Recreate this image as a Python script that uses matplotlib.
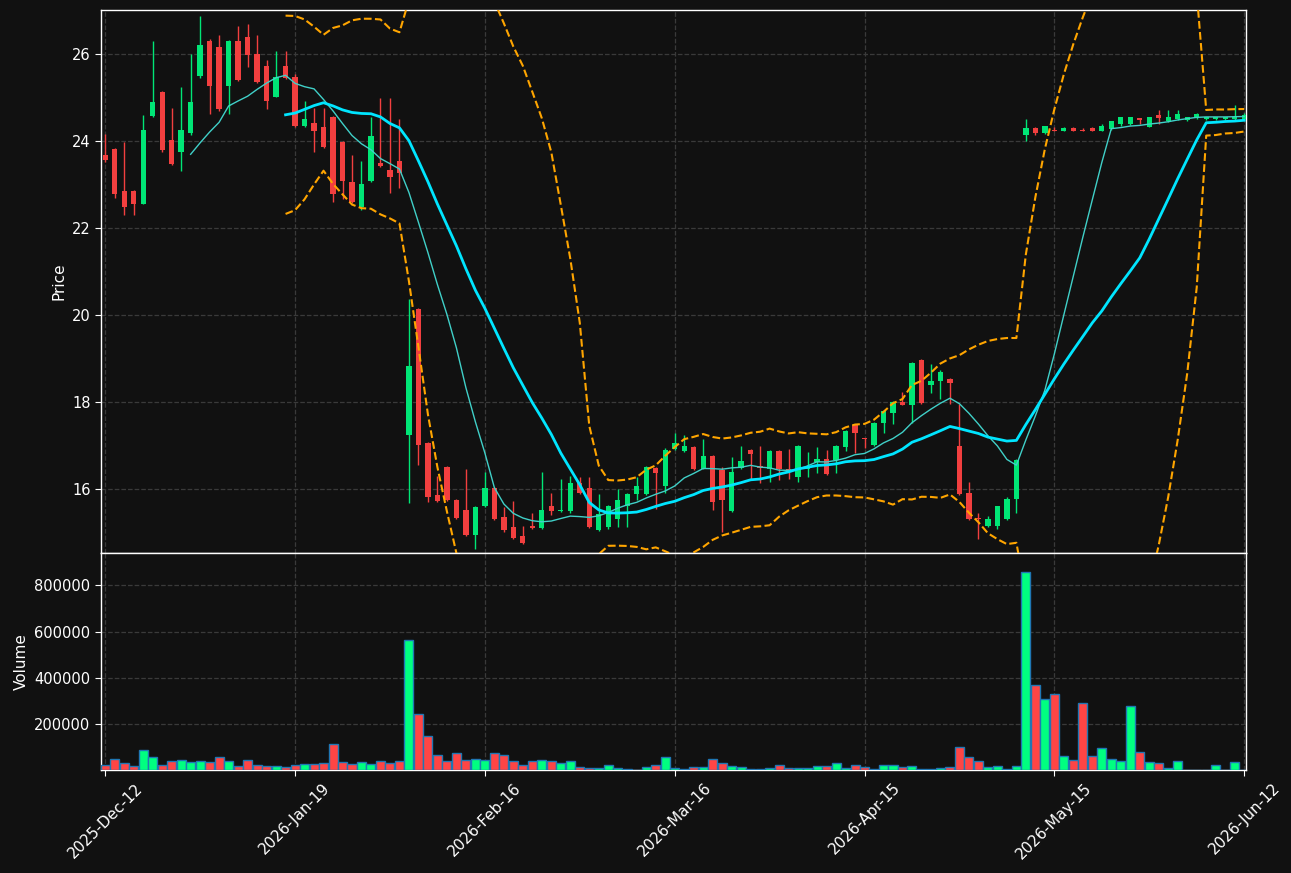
import numpy as np
import pandas as pd
import matplotlib
matplotlib.use("Agg")
import matplotlib.pyplot as plt
from matplotlib.ticker import FixedLocator, FixedFormatter

# ---------------- data ----------------
opens = [23.69, 23.82, 22.86, 22.86, 22.57, 24.58, 25.13, 24.03, 23.76, 24.19,
         25.51, 26.31, 26.17, 25.28, 26.31, 26.40, 26.01, 25.73, 25.03, 25.73,
         25.49, 24.36, 24.42, 24.33, 24.56, 23.98, 23.06, 22.50, 23.09, 23.50,
         23.34, 23.55, 17.25, 20.14, 17.06, 15.87, 16.51, 15.75, 15.52, 14.95,
         15.62, 16.03, 15.36, 15.13, 14.94, 15.16, 15.11, 15.61, 15.50, 15.51,
         16.14, 16.03, 15.07, 15.14, 15.32, 15.62, 15.89, 15.90, 16.49, 16.08,
         16.93, 16.89, 16.97, 16.48, 16.77, 16.44, 15.51, 16.50, 16.90, 16.55,
         16.47, 16.88, 16.46, 16.29, 16.47, 16.62, 16.70, 16.67, 16.98, 17.49,
         17.18, 17.03, 17.53, 17.76, 18.01, 17.95, 18.97, 18.40, 18.50, 18.55,
         17.01, 15.91, 15.34, 15.16, 15.16, 15.32, 15.78, 24.15, 24.31, 24.19,
         24.26, 24.24, 24.31, 24.26, 24.31, 24.24, 24.29, 24.40, 24.40, 24.51,
         24.34, 24.60, 24.46, 24.51, 24.50, 24.55, 24.51, 24.51, 24.51, 24.51,
         24.51]
highs = [24.17, 23.84, 23.98, 22.88, 24.60, 26.30, 25.15, 24.76, 25.24, 26.00,
         26.88, 26.35, 26.44, 26.33, 26.65, 26.69, 26.44, 25.87, 26.08, 26.08,
         25.55, 24.94, 24.76, 24.76, 24.58, 24.00, 23.68, 23.54, 24.55, 24.99,
         24.99, 24.51, 20.37, 20.16, 17.08, 16.32, 16.53, 15.77, 16.48, 15.61,
         16.41, 16.05, 15.59, 15.73, 15.16, 15.45, 16.39, 15.91, 16.24, 16.30,
         16.28, 16.28, 15.90, 15.65, 16.02, 15.91, 16.28, 16.53, 16.51, 16.95,
         17.29, 17.26, 16.99, 17.17, 16.80, 16.52, 16.74, 17.01, 16.92, 16.99,
         16.90, 16.90, 16.93, 17.02, 16.85, 16.97, 16.90, 17.02, 17.36, 17.51,
         17.19, 17.54, 17.82, 18.03, 18.25, 18.93, 18.99, 18.88, 18.74, 18.57,
         17.96, 16.17, 15.46, 15.39, 15.63, 15.82, 16.69, 24.51, 24.32, 24.36,
         24.33, 24.32, 24.32, 24.30, 24.32, 24.41, 24.47, 24.56, 24.56, 24.52,
         24.56, 24.72, 24.72, 24.72, 24.56, 24.65, 24.57, 24.56, 24.56, 24.84,
         24.65]
lows = [23.53, 22.71, 22.32, 22.32, 22.55, 24.55, 23.75, 23.46, 23.33, 24.15,
        25.46, 24.64, 24.70, 24.64, 25.40, 25.71, 25.35, 24.75, 25.01, 25.44,
        24.34, 24.34, 23.76, 23.85, 22.61, 22.67, 22.59, 22.42, 23.07, 23.42,
        22.81, 22.94, 15.69, 16.57, 15.72, 15.72, 15.74, 15.32, 14.93, 14.63,
        15.60, 15.30, 15.02, 14.86, 14.75, 15.09, 15.09, 15.41, 15.48, 15.46,
        15.90, 15.12, 15.05, 15.10, 15.14, 15.14, 15.75, 15.88, 15.56, 15.92,
        16.90, 16.87, 16.45, 16.46, 15.52, 15.03, 15.49, 16.48, 16.25, 16.14,
        16.18, 16.22, 16.23, 16.16, 16.28, 16.38, 16.34, 16.37, 16.89, 16.83,
        16.95, 17.01, 17.30, 17.50, 17.93, 17.52, 17.97, 18.21, 18.07, 17.96,
        15.88, 15.30, 14.85, 15.14, 15.08, 15.30, 15.46, 24.00, 24.15, 24.17,
        24.23, 24.23, 24.23, 24.23, 24.23, 24.23, 24.27, 24.36, 24.38, 24.41,
        24.32, 24.41, 24.44, 24.49, 24.48, 24.51, 24.50, 24.50, 24.50, 24.50,
        24.50]
closes = [23.57, 22.80, 22.50, 22.57, 24.26, 24.90, 23.80, 23.48, 24.26, 24.90,
          26.21, 25.28, 24.74, 26.31, 25.42, 25.99, 25.37, 24.93, 25.49, 25.46,
          24.36, 24.51, 24.24, 23.87, 22.80, 23.09, 22.61, 23.02, 24.12, 23.44,
          23.19, 23.28, 18.83, 17.03, 15.83, 15.74, 15.76, 15.34, 14.95, 15.59,
          16.03, 15.32, 15.06, 14.88, 14.77, 15.11, 15.52, 15.51, 15.53, 16.14,
          15.92, 15.14, 15.43, 15.63, 15.76, 15.89, 16.09, 16.51, 16.38, 16.90,
          17.06, 16.99, 16.47, 16.77, 15.72, 15.76, 16.40, 16.65, 16.82, 16.50,
          16.88, 16.46, 16.43, 17.00, 16.52, 16.70, 16.36, 17.00, 17.34, 17.30,
          17.16, 17.52, 17.80, 18.01, 17.95, 18.90, 17.99, 18.49, 18.70, 18.45,
          15.90, 15.32, 15.32, 15.33, 15.61, 15.79, 16.67, 24.31, 24.20, 24.35,
          24.24, 24.31, 24.24, 24.24, 24.24, 24.35, 24.46, 24.55, 24.55, 24.50,
          24.55, 24.54, 24.55, 24.64, 24.55, 24.64, 24.56, 24.55, 24.55, 24.55,
          24.60]
volumes = [21700, 47800, 30400, 17400, 87000, 54900, 21700, 39000, 43500, 34800,
           39000, 34800, 56500, 39000, 17400, 43500, 21700, 17400, 17400, 13000,
           21700, 26000, 26000, 30400, 113000, 34800, 26000, 34800, 26000, 39000,
           30400, 39000, 565000, 243500, 147800, 65000, 39000, 74000, 43500, 47800,
           43500, 74000, 65000, 39000, 21700, 39000, 43500, 39000, 30400, 39000,
           13000, 8700, 8700, 21700, 8700, 4000, 1000, 13000, 21700, 56500,
           8700, 3000, 13000, 13000, 47800, 30400, 17400, 13000, 3000, 3000,
           8700, 21700, 8700, 8700, 8700, 17400, 17400, 30400, 8700, 21700,
           13000, 3000, 21700, 21700, 13000, 17400, 3000, 3000, 8700, 13000,
           100000, 56500, 39000, 13000, 17400, 3000, 17400, 856600, 369600, 308700,
           330000, 60900, 43500, 291000, 60900, 95600, 47800, 39000, 278000, 78000,
           34800, 30400, 8700, 39000, 2000, 2000, 1000, 21700, 1000, 34800,
           1000]
tick_labels = ["2025-Dec-12", "2026-Jan-19", "2026-Feb-16", "2026-Mar-16",
               "2026-Apr-15", "2026-May-15", "2026-Jun-12"]
tick_step = 20
price_ticks = [16, 18, 20, 22, 24, 26]
volume_ticks = [200000, 400000, 600000, 800000]

# ---------------- style ----------------
BG = "#111111"
GRID = "#3a3a3a"
UP, DOWN = "#00e676", "#f23f3f"
VUP, VDOWN = "#00ff80", "#ff4545"
VEDGE = "#1f77b4"
MA_SHORT, MA_LONG = "#40d0c8", "#00e5ff"
BAND = "#ffa500"

o = np.array(opens); h = np.array(highs); l = np.array(lows); c = np.array(closes)
v = np.array(volumes)
n = len(c)
x = np.arange(n)
up = c >= o

fig = plt.figure(figsize=(12.91, 8.73), dpi=100, facecolor=BG)
ax = fig.add_axes([0.0782, 0.3671, 0.887, 0.6214], facecolor=BG)
axv = fig.add_axes([0.0782, 0.118, 0.887, 0.2491], facecolor=BG, sharex=ax)

# candles
ccol = np.where(up, UP, DOWN)
ax.vlines(x, l, h, colors=ccol, lw=1.0, zorder=2)
body_lo = np.minimum(o, c)
body_h = np.maximum(np.abs(c - o), 0.03)
ax.bar(x, body_h, bottom=body_lo, width=0.56, color=ccol, lw=0, zorder=3)

# moving averages & bands
s = pd.Series(c)
ma10 = s.rolling(10).mean()
ma20 = s.rolling(20).mean()
sd20 = s.rolling(20).std(ddof=0)
ax.plot(x, ma10, color=MA_SHORT, lw=1.0, zorder=4)
ax.plot(x, ma20, color=MA_LONG, lw=2.0, zorder=4)
ax.plot(x, ma20 + 2 * sd20, color=BAND, lw=1.5, ls="--", zorder=4)
ax.plot(x, ma20 - 2 * sd20, color=BAND, lw=1.5, ls="--", zorder=4)

# volume
vcol = np.where(up, VUP, VDOWN)
axv.bar(x, v, width=0.95, color=vcol, edgecolor=VEDGE, lw=1.0, zorder=3)

ax.set_xlim(-0.45, n - 1 + 0.2)
ax.set_ylim(14.55, 27.02)
axv.set_ylim(0, v.max() * 1.1)

for a in (ax, axv):
    a.grid(True, ls="--", color=GRID, lw=0.9, zorder=0)
    a.set_axisbelow(True)
    for sp in a.spines.values():
        sp.set_color("white")
        sp.set_linewidth(1.0)
    a.tick_params(colors="white", labelsize=10.5, length=4)

ax.set_yticks(price_ticks)
axv.set_yticks(volume_ticks)
axv.ticklabel_format(style="plain", axis="y")
tick_pos = list(range(0, n, tick_step))
axv.xaxis.set_major_locator(FixedLocator(tick_pos))
axv.xaxis.set_major_formatter(FixedFormatter(tick_labels))
plt.setp(ax.get_xticklabels(), visible=False)
plt.setp(axv.get_xticklabels(), rotation=45, ha="center", fontsize=11)

ax.set_ylabel("Price", color="white", fontsize=11)
axv.set_ylabel("Volume", color="white", fontsize=11)

fig.savefig("out.png", dpi=100, facecolor=BG)
